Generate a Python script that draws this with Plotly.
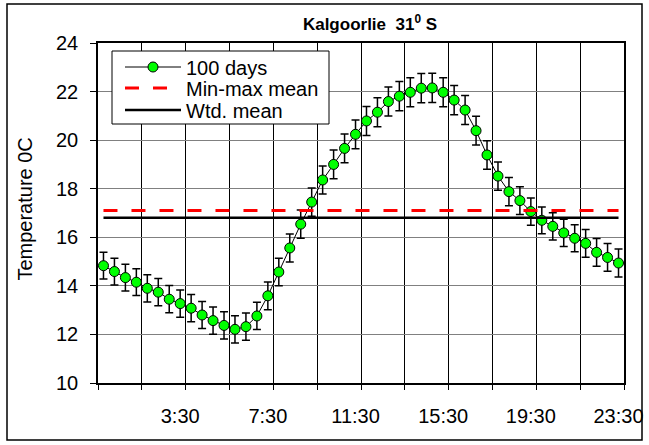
import plotly.graph_objects as go

# Half-hourly time of day (local)
times = [
    "0:00", "0:30", "1:00", "1:30", "2:00", "2:30", "3:00", "3:30",
    "4:00", "4:30", "5:00", "5:30", "6:00", "6:30", "7:00", "7:30",
    "8:00", "8:30", "9:00", "9:30", "10:00", "10:30", "11:00", "11:30",
    "12:00", "12:30", "13:00", "13:30", "14:00", "14:30", "15:00", "15:30",
    "16:00", "16:30", "17:00", "17:30", "18:00", "18:30", "19:00", "19:30",
    "20:00", "20:30", "21:00", "21:30", "22:00", "22:30", "23:00", "23:30",
]

# Mean temperature over 100 days (deg C)
temp_100_days = [
    14.83, 14.59, 14.34, 14.15, 13.90, 13.74, 13.45, 13.27,
    13.08, 12.80, 12.57, 12.37, 12.21, 12.32, 12.76, 13.59,
    14.57, 15.56, 16.54, 17.45, 18.36, 19.00, 19.66, 20.24,
    20.79, 21.15, 21.59, 21.81, 21.97, 22.14, 22.15, 21.97,
    21.65, 21.24, 20.39, 19.39, 18.52, 17.88, 17.51, 17.06,
    16.70, 16.45, 16.18, 15.96, 15.75, 15.38, 15.17, 14.94,
]

# Standard error of each half-hourly mean
temp_err = [
    0.55, 0.55, 0.55, 0.55, 0.56, 0.56, 0.56, 0.56,
    0.56, 0.56, 0.56, 0.56, 0.56, 0.56, 0.56, 0.57,
    0.57, 0.58, 0.58, 0.58, 0.58, 0.59, 0.59, 0.59,
    0.60, 0.60, 0.60, 0.60, 0.60, 0.60, 0.60, 0.60,
    0.60, 0.60, 0.59, 0.59, 0.58, 0.58, 0.57, 0.56,
    0.55, 0.56, 0.56, 0.56, 0.57, 0.57, 0.57, 0.58,
]

minmax_mean = 17.1
weighted_mean = 16.8

tick_labels = ["3:30", "7:30", "11:30", "15:30", "19:30", "23:30"]
y_ticks = [10, 12, 14, 16, 18, 20, 22, 24]


def to_hours(label):
    h, m = label.split(":")
    return int(h) + int(m) / 60.0


hours = [to_hours(t) for t in times]
step = hours[1] - hours[0]
x_lo, x_hi = hours[0] - step / 2, hours[-1] + step / 2
# category boundaries every two hours carry the vertical grid and ticks
boundaries = [x_lo + 4 * step * k for k in range(int(round((x_hi - x_lo) / (4 * step))) + 1)]

FONT = "Liberation Sans, Arial, sans-serif"

# plot-area geometry in pixels, used to place the legend box and frame
PL, PR, PT, PB = 98, 624, 43, 383
PW, PH = PR - PL, PB - PT


def px_x(x):
    return (x - PL) / PW


def px_y(y):
    return (PB - y) / PH


fig = go.Figure()

fig.add_trace(go.Scatter(
    x=hours, y=temp_100_days, name="100 days", mode="lines+markers",
    line=dict(color="black", width=1),
    marker=dict(size=10, color="#00ff00", line=dict(color="black", width=1)),
    error_y=dict(type="data", array=temp_err, visible=True,
                 color="black", thickness=1.5, width=4),
    legend="legend",
))
fig.add_trace(go.Scatter(
    x=hours, y=[minmax_mean] * len(hours), name="Min-max mean", mode="lines",
    line=dict(color="#ff0000", width=3, dash="14px,14px"),
    legend="legend2",
))
fig.add_trace(go.Scatter(
    x=hours, y=[weighted_mean] * len(hours), name="Wtd. mean", mode="lines",
    line=dict(color="black", width=2.5),
    legend="legend3",
))

# one legend per row so the rows sit as tightly as in a spreadsheet chart
legend_rows = [67, 88, 110]


def row_legend(y_px):
    return dict(
        x=px_x(120), y=px_y(y_px), xanchor="left", yanchor="middle",
        bgcolor="rgba(0,0,0,0)", borderwidth=0,
        font=dict(family=FONT, size=20, color="black"),
        itemwidth=56, tracegroupgap=0,
    )


fig.update_layout(
    width=649, height=445,
    autosize=False,
    margin=dict(l=PL, r=649 - PR, t=PT, b=445 - PB, autoexpand=False),
    paper_bgcolor="white", plot_bgcolor="white",
    font=dict(family=FONT, size=20, color="black"),
    showlegend=True,
    legend=row_legend(legend_rows[0]),
    legend2=row_legend(legend_rows[1]),
    legend3=row_legend(legend_rows[2]),
    title=dict(
        text="<b>Kalgoorlie&nbsp; 31<sup>0</sup> S</b>",
        font=dict(family=FONT, size=17, color="black"),
        x=px_x(370), xref="paper", xanchor="center",
        y=1 - 24 / 445, yref="container", yanchor="middle",
    ),
    xaxis=dict(
        range=[x_lo, x_hi],
        automargin=False,
        tickmode="array",
        tickvals=[to_hours(t) for t in tick_labels],
        ticktext=tick_labels,
        ticks="", showgrid=False, zeroline=False,
        showline=True, linecolor="black", linewidth=1.5, mirror=True,
        ticklabelstandoff=14,
        tickfont=dict(size=20),
        minor=dict(
            tickmode="array", tickvals=boundaries,
            ticks="outside", ticklen=5, tickcolor="black", tickwidth=1,
            showgrid=True, gridcolor="black", gridwidth=1,
        ),
    ),
    yaxis=dict(
        range=[10, 24],
        automargin=False,
        tickmode="array", tickvals=y_ticks,
        ticks="outside", ticklen=6, tickcolor="black", tickwidth=1,
        showgrid=True, gridcolor="#808080", gridwidth=1,
        zeroline=False,
        showline=True, linecolor="black", linewidth=1.5, mirror=True,
        ticklabelstandoff=8,
        tickfont=dict(size=20),
    ),
    annotations=[dict(
        text="Temperature 0C", textangle=-90,
        xref="paper", yref="paper",
        x=px_x(25), y=0.51, xanchor="center", yanchor="middle",
        showarrow=False, font=dict(size=20, color="black"),
    )],
    shapes=[
        # outer chart frame
        dict(
            type="rect", xref="paper", yref="paper",
            x0=px_x(7), x1=px_x(642), y0=px_y(440), y1=px_y(4),
            line=dict(color="black", width=1.5), fillcolor="rgba(0,0,0,0)",
            layer="below",
        ),
        # legend box
        dict(
            type="rect", xref="paper", yref="paper",
            x0=px_x(112), x1=px_x(329), y0=px_y(124), y1=px_y(51),
            line=dict(color="black", width=1), fillcolor="white",
            layer="above",
        ),
    ],
)

fig.write_html("out.html")
